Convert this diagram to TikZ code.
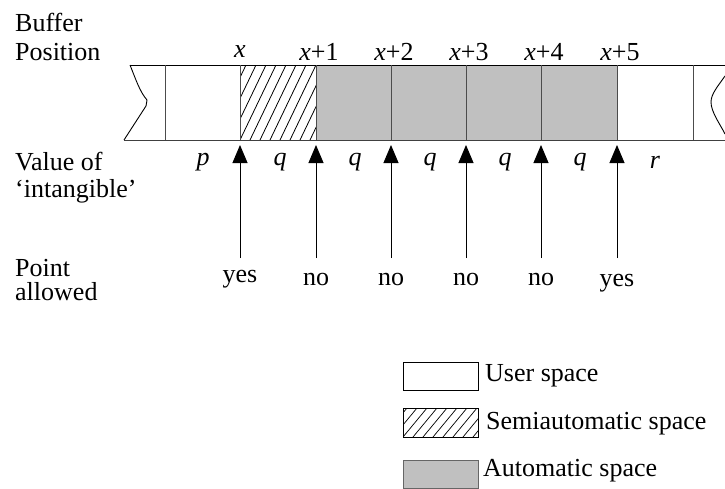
\documentclass[tikz,border=0pt]{standalone}
\usepackage{fontspec}
\setmainfont{Liberation Serif}
\usetikzlibrary{arrows.meta}
\definecolor{autogray}{RGB}{192,192,192}
\begin{document}
\begin{tikzpicture}[x=1pt,y=-1pt,
  lbl/.style={font=\fontsize{26}{30}\selectfont, inner sep=0pt},
  leftlbl/.style={lbl, anchor=base west},
  cellline/.style={line width=1pt, draw=black!70},
  ptarrow/.style={line width=0.9pt, -{Triangle[width=15pt,length=18pt]}},
  boxline/.style={line width=1pt}]
\useasboundingbox (0,0) rectangle (725,488);
% fills
\fill[autogray] (316,65) rectangle (617,140);
\begin{scope}
  \clip (240,65) rectangle (316,140);
  \foreach \k in {-4,...,8} {
    \draw[line width=0.8pt] (240+\k*10,140) -- (240+\k*10+36,65);
  }
\end{scope}
% strip outline
\draw[boxline] (130,65) -- (725,65);
\draw[boxline, draw=black!75] (124,140) -- (725,140);
\draw[line width=0.9pt] (130,65) .. controls (136,80) and (140,92) .. (147,100) -- (146,106) -- (124,140);
\draw[line width=0.9pt] (725,76) .. controls (718,86) and (711,94) .. (711,102) .. controls (711,112) and (720,124) .. (725,134);
\foreach \xx in {165,240,316,391,466,541,617,693} {
  \draw[cellline] (\xx,65) -- (\xx,140);
}
% left labels
\node[leftlbl] (buf) at (15,31) {Buffer};
\node[leftlbl] (pos) at (15,60) {Position};
\node[leftlbl] (val) at (15,170) {Value of};
\node[leftlbl] (intg) at (15,197) {`intangible'};
\node[leftlbl] (pnt) at (15,276) {Point};
\node[leftlbl] (alw) at (15,300) {allowed};
% position labels
\node[lbl] (px0) at (240,52) {\textit{x}};
\node[lbl] (px1) at (319,52) {\textit{x}+1};
\node[lbl] (px2) at (394,52) {\textit{x}+2};
\node[lbl] (px3) at (469,52) {\textit{x}+3};
\node[lbl] (px4) at (544,52) {\textit{x}+4};
\node[lbl] (px5) at (620,52) {\textit{x}+5};
% values
\node[lbl] (vp) at (203,162) {\textit{p}};
\node[lbl] (vq1) at (280,162) {\textit{q}};
\node[lbl] (vq2) at (355,162) {\textit{q}};
\node[lbl] (vq3) at (430,162) {\textit{q}};
\node[lbl] (vq4) at (505,162) {\textit{q}};
\node[lbl] (vq5) at (580,162) {\textit{q}};
\node[lbl] (vr) at (655,162) {\textit{r}};
% allowed
\node[lbl] (a0) at (240,279) {yes};
\node[lbl] (a1) at (316,279) {no};
\node[lbl] (a2) at (391,279) {no};
\node[lbl] (a3) at (466,279) {no};
\node[lbl] (a4) at (541,279) {no};
\node[lbl] (a5) at (617,283) {yes};
\foreach \i/\xx in {0/240,1/316,2/391,3/466,4/541,5/617} {
  \coordinate (s\i) at (\xx,258);
  \coordinate (t\i) at (\xx,145);
  \draw[ptarrow] (s\i) -- (t\i);
}
% legend
\draw[line width=0.9pt] (403,362) rectangle (478,390);
\begin{scope}
  \clip (403,408) rectangle (478,437);
  \foreach \k in {-3,...,8} {
    \draw[line width=0.7pt] (403+\k*10,437) -- (403+\k*10+24,408);
  }
\end{scope}
\draw[line width=0.9pt] (403,408) rectangle (478,437);
\filldraw[fill=autogray, draw=black!60, line width=0.9pt] (403,460) rectangle (478,488);
\node[leftlbl, anchor=west] (lu) at (485,376) {User space};
\node[leftlbl, anchor=west] (ls) at (486,424) {Semiautomatic space};
\node[leftlbl, anchor=west] (la) at (483,471) {Automatic space};
\end{tikzpicture}
\end{document}
